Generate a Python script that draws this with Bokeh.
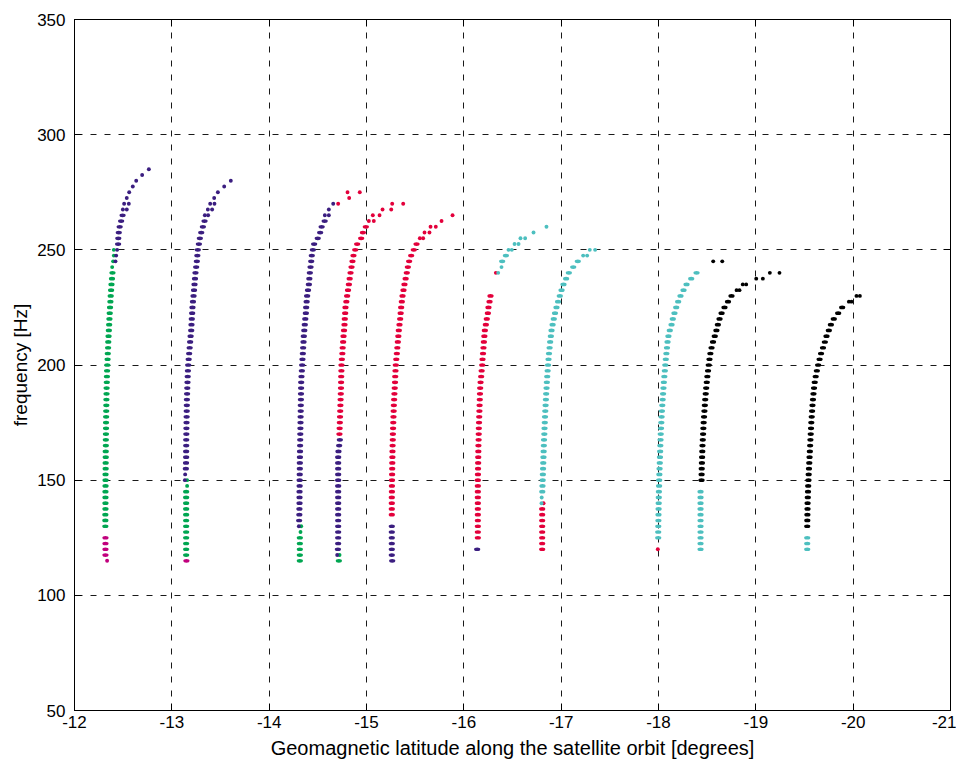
from bokeh.plotting import figure
from bokeh.models import Range1d, FixedTicker, LinearAxis, ColumnDataSource
from bokeh.embed import file_html
from bokeh.resources import INLINE

# ---------------- axes ----------------
x_ticks = [-12, -13, -14, -15, -16, -17, -18, -19, -20, -21]
x_tick_labels = ["-12", "-13", "-14", "-15", "-16", "-17", "-18", "-19", "-20", "-21"]
y_ticks = [50, 100, 150, 200, 250, 300, 350]
y_tick_labels = ["50", "100", "150", "200", "250", "300", "350"]
x_title = "Geomagnetic latitude along the satellite orbit [degrees]"
y_title = "frequency [Hz]"

GREEN = "#00a651"
PURPLE = "#3b1e80"
MAGENTA = "#c1007d"
RED = "#e3003b"
CYAN = "#4dbfbf"
BLACK = "#000000"

# ---------------- data: (frequency [Hz], latitude [deg]) ----------------
# "pair" = two overlapping samples at one frequency, "single" = one sample
# curve 1
c1_magenta_pair = [(117.5, -12.318), (120, -12.318), (122.5, -12.318), (125, -12.318)]
c1_magenta_single = [(115, -12.335)]
c1_green_pair = [(130, -12.317), (132.5, -12.317), (135, -12.317), (137.5, -12.318), (140, -12.318),
                 (142.5, -12.318), (145, -12.318), (147.5, -12.319), (150, -12.319), (152.5, -12.319),
                 (155, -12.320), (157.5, -12.320), (160, -12.321), (162.5, -12.321), (165, -12.322),
                 (167.5, -12.322), (170, -12.323), (172.5, -12.324), (175, -12.324), (177.5, -12.325),
                 (180, -12.326), (182.5, -12.327), (185, -12.328), (187.5, -12.329), (190, -12.330),
                 (192.5, -12.332), (195, -12.333), (197.5, -12.335), (200, -12.337), (202.5, -12.340),
                 (205, -12.342), (207.5, -12.345), (210, -12.347), (212.5, -12.350), (215, -12.353),
                 (217.5, -12.356), (220, -12.359), (222.5, -12.362), (225, -12.365), (227.5, -12.369),
                 (230, -12.372), (232.5, -12.376), (235, -12.380), (237.5, -12.385), (240, -12.390)]
c1_green_single = [(242.5, -12.387), (245, -12.397), (247.5, -12.404), (250, -12.404)]
c1_purple_pair = [(252.5, -12.448), (255, -12.450), (257.5, -12.455), (260, -12.464),
                  (262.5, -12.479), (265, -12.494)]
c1_purple_single = [(245, -12.421), (247.5, -12.428), (250, -12.438), (267.5, -12.497), (267.5, -12.537),
                    (270, -12.510), (270, -12.558), (272.5, -12.537), (275, -12.562), (277.5, -12.599),
                    (280, -12.634), (282.5, -12.695), (285, -12.764)]

# curve 2
c2_magenta_pair = [(115, -13.150)]
c2_green_pair = [(117.5, -13.147), (120, -13.147), (122.5, -13.147), (125, -13.147), (127.5, -13.147),
                 (130, -13.147), (132.5, -13.147), (135, -13.147), (137.5, -13.147), (140, -13.147),
                 (142.5, -13.147), (145, -13.147)]
c2_green_single = [(147.5, -13.157), (150, -13.157)]
c2_purple_single = [(150, -13.134), (152.5, -13.137), (265, -13.339), (265, -13.373), (267.5, -13.370),
                    (267.5, -13.414), (270, -13.394), (270, -13.438), (272.5, -13.435), (275, -13.473),
                    (277.5, -13.538), (280, -13.606)]
c2_purple_pair = [(155, -13.144), (157.5, -13.146), (160, -13.147), (162.5, -13.147), (165, -13.148),
                  (167.5, -13.148), (170, -13.149), (172.5, -13.150), (175, -13.151), (177.5, -13.152),
                  (180, -13.153), (182.5, -13.154), (185, -13.155), (187.5, -13.157), (190, -13.159),
                  (192.5, -13.161), (195, -13.163), (197.5, -13.165), (200, -13.168), (202.5, -13.173),
                  (205, -13.178), (207.5, -13.183), (210, -13.188), (212.5, -13.193), (215, -13.199),
                  (217.5, -13.202), (220, -13.205), (222.5, -13.209), (225, -13.212), (227.5, -13.217),
                  (230, -13.223), (232.5, -13.228), (235, -13.233), (237.5, -13.238), (240, -13.243),
                  (242.5, -13.250), (245, -13.257), (247.5, -13.262), (250, -13.267), (252.5, -13.278),
                  (255, -13.288), (257.5, -13.302), (260, -13.319), (262.5, -13.336)]

# curve 3
c3_green_pair = [(115, -14.315), (117.5, -14.315), (120, -14.315), (122.5, -14.315), (125, -14.315)]
c3_green_single = [(127.5, -14.322), (130, -14.329)]
c3_purple_single = [(130, -14.305), (265, -14.572), (265, -14.613), (267.5, -14.613), (270, -14.658)]
c3_purple_pair = [(132.5, -14.308), (135, -14.310), (137.5, -14.311), (140, -14.312), (142.5, -14.312),
                  (145, -14.312), (147.5, -14.313), (150, -14.313), (152.5, -14.314), (155, -14.315),
                  (157.5, -14.315), (160, -14.316), (162.5, -14.317), (165, -14.318), (167.5, -14.319),
                  (170, -14.320), (172.5, -14.321), (175, -14.322), (177.5, -14.323), (180, -14.324),
                  (182.5, -14.325), (185, -14.326), (187.5, -14.327), (190, -14.328), (192.5, -14.329),
                  (195, -14.332), (197.5, -14.336), (200, -14.339), (202.5, -14.342), (205, -14.346),
                  (207.5, -14.349), (210, -14.353), (212.5, -14.356), (215, -14.361), (217.5, -14.366),
                  (220, -14.371), (222.5, -14.377), (225, -14.380), (227.5, -14.385), (230, -14.390),
                  (232.5, -14.399), (235, -14.408), (237.5, -14.413), (240, -14.418), (242.5, -14.425),
                  (245, -14.432), (247.5, -14.438), (250, -14.449), (252.5, -14.462), (255, -14.499),
                  (257.5, -14.524), (260, -14.539), (262.5, -14.570)]
c3_red_single = [(270, -14.709), (272.5, -14.822), (275, -14.805), (275, -14.931)]

# curve 4
c4_green_pair = [(115, -14.716)]
c4_green_single = [(117.5, -14.723)]
c4_purple_single = [(117.5, -14.699)]
c4_purple_pair = [(120, -14.706), (122.5, -14.709), (125, -14.709), (127.5, -14.709), (130, -14.709),
                  (132.5, -14.709), (135, -14.709), (137.5, -14.709), (140, -14.709), (142.5, -14.709),
                  (145, -14.709), (147.5, -14.709), (150, -14.709), (152.5, -14.709), (155, -14.709),
                  (157.5, -14.709), (160, -14.709), (162.5, -14.712), (165, -14.719), (167.5, -14.726)]
c4_red_pair = [(170, -14.722), (172.5, -14.724), (175, -14.726), (177.5, -14.728), (180, -14.730),
               (182.5, -14.732), (185, -14.734), (187.5, -14.736), (190, -14.738), (192.5, -14.739),
               (195, -14.740), (197.5, -14.742), (200, -14.743), (202.5, -14.747), (205, -14.752),
               (207.5, -14.755), (210, -14.760), (212.5, -14.764), (215, -14.769), (217.5, -14.774),
               (220, -14.777), (222.5, -14.781), (225, -14.784), (227.5, -14.793), (230, -14.801),
               (232.5, -14.810), (235, -14.819), (237.5, -14.827), (240, -14.836), (242.5, -14.846),
               (245, -14.856), (247.5, -14.866), (250, -14.884), (252.5, -14.904), (255, -14.945),
               (257.5, -14.963), (260, -14.993)]
c4_red_single = [(262.5, -15.024), (262.5, -15.075), (265, -15.065), (265, -15.134), (267.5, -15.165),
                 (267.5, -15.254), (270, -15.264), (270, -15.377)]

# curve 5
c5_purple_pair = [(115, -15.264), (117.5, -15.260), (120, -15.260), (122.5, -15.260), (125, -15.260),
                  (127.5, -15.260), (130, -15.260)]
c5_red_pair = [(135, -15.260), (137.5, -15.260), (140, -15.260), (142.5, -15.260), (145, -15.261),
               (147.5, -15.261), (150, -15.262), (152.5, -15.263), (155, -15.264), (157.5, -15.265),
               (160, -15.266), (162.5, -15.267), (165, -15.268), (167.5, -15.270), (170, -15.271),
               (172.5, -15.273), (175, -15.275), (177.5, -15.277), (180, -15.279), (182.5, -15.281),
               (185, -15.284), (187.5, -15.287), (190, -15.290), (192.5, -15.293), (195, -15.295),
               (197.5, -15.298), (200, -15.301), (202.5, -15.306), (205, -15.312), (207.5, -15.317),
               (210, -15.322), (212.5, -15.327), (215, -15.332), (217.5, -15.339), (220, -15.346),
               (222.5, -15.351), (225, -15.356), (227.5, -15.363), (230, -15.370), (232.5, -15.380),
               (235, -15.390), (237.5, -15.402), (240, -15.414), (242.5, -15.425), (245, -15.438),
               (247.5, -15.459), (250, -15.486), (252.5, -15.514)]
c5_red_single = [(255, -15.548), (255, -15.582), (257.5, -15.596), (257.5, -15.647), (260, -15.658),
                 (260, -15.712), (262.5, -15.771), (265, -15.884)]

# curve 6
c6_purple_pair = [(120, -16.137)]
c6_red_pair = [(125, -16.144), (127.5, -16.144), (130, -16.144), (132.5, -16.144), (135, -16.144),
               (137.5, -16.144), (140, -16.144), (142.5, -16.144), (145, -16.144), (147.5, -16.144),
               (150, -16.144), (152.5, -16.145), (155, -16.146), (157.5, -16.147), (160, -16.148),
               (162.5, -16.149), (165, -16.150), (167.5, -16.152), (170, -16.153), (172.5, -16.154),
               (175, -16.156), (177.5, -16.158), (180, -16.160), (182.5, -16.162), (185, -16.164),
               (187.5, -16.166), (190, -16.168), (192.5, -16.172), (195, -16.178), (197.5, -16.183),
               (200, -16.189), (202.5, -16.192), (205, -16.197), (207.5, -16.202), (210, -16.206),
               (212.5, -16.211), (215, -16.216), (217.5, -16.226), (220, -16.236), (222.5, -16.247),
               (225, -16.253), (227.5, -16.264), (230, -16.274)]
c6_red_single = [(240, -16.329)]
c6_cyan_pair = [(245, -16.394), (247.5, -16.432)]
c6_cyan_single = [(240, -16.353), (242.5, -16.387), (250, -16.459), (250, -16.493), (252.5, -16.521),
                  (252.5, -16.562), (255, -16.582), (255, -16.630), (257.5, -16.716), (260, -16.849)]

# curve 7
c7_red_pair = [(120, -16.805), (122.5, -16.805), (125, -16.805), (127.5, -16.805), (130, -16.805),
               (132.5, -16.805), (135, -16.805), (137.5, -16.805)]
c7_red_single = [(140, -16.819)]
c7_cyan_single = [(140, -16.798), (142.5, -16.800), (247.5, -17.226), (247.5, -17.267),
                  (250, -17.294), (250, -17.349)]
c7_cyan_pair = [(145, -16.806), (147.5, -16.808), (150, -16.810), (152.5, -16.812), (155, -16.814),
                (157.5, -16.816), (160, -16.818), (162.5, -16.820), (165, -16.822), (167.5, -16.824),
                (170, -16.827), (172.5, -16.829), (175, -16.832), (177.5, -16.834), (180, -16.837),
                (182.5, -16.840), (185, -16.843), (187.5, -16.846), (190, -16.850), (192.5, -16.853),
                (195, -16.857), (197.5, -16.861), (200, -16.865), (202.5, -16.870), (205, -16.875),
                (207.5, -16.881), (210, -16.887), (212.5, -16.894), (215, -16.901), (217.5, -16.912),
                (220, -16.924), (222.5, -16.937), (225, -16.952), (227.5, -16.968), (230, -16.986),
                (232.5, -17.004), (235, -17.024), (237.5, -17.051), (240, -17.079), (242.5, -17.124),
                (245, -17.171)]

# curve 8
c8_red_single = [(120, -17.993)]
c8_cyan_pair = [(125, -17.997), (127.5, -17.997), (130, -17.998), (132.5, -17.999), (135, -18.000),
                (137.5, -18.001), (140, -18.002), (142.5, -18.003), (145, -18.004), (147.5, -18.006),
                (150, -18.007), (152.5, -18.009), (155, -18.011), (157.5, -18.013), (160, -18.015),
                (162.5, -18.017), (165, -18.019), (167.5, -18.021), (170, -18.023), (172.5, -18.026),
                (175, -18.029), (177.5, -18.032), (180, -18.035), (182.5, -18.039), (185, -18.043),
                (187.5, -18.047), (190, -18.051), (192.5, -18.055), (195, -18.060), (197.5, -18.065),
                (200, -18.070), (202.5, -18.075), (205, -18.081), (207.5, -18.087), (210, -18.093),
                (212.5, -18.102), (215, -18.116), (217.5, -18.134), (220, -18.147), (222.5, -18.164),
                (225, -18.182), (227.5, -18.202), (230, -18.226), (232.5, -18.257), (235, -18.288),
                (237.5, -18.336), (240, -18.391)]
c8_black_single = [(245, -18.562), (245, -18.655)]

# curve 9
c9_cyan_pair = [(120, -18.432), (122.5, -18.432), (125, -18.432), (127.5, -18.432), (130, -18.432),
                (132.5, -18.432), (135, -18.432), (137.5, -18.432), (140, -18.432), (142.5, -18.432),
                (145, -18.432)]
c9_black_pair = [(150, -18.442), (152.5, -18.443), (155, -18.444), (157.5, -18.446), (160, -18.448),
                 (162.5, -18.450), (165, -18.452), (167.5, -18.455), (170, -18.458), (172.5, -18.461),
                 (175, -18.464), (177.5, -18.468), (180, -18.472), (182.5, -18.476), (185, -18.480),
                 (187.5, -18.485), (190, -18.490), (192.5, -18.496), (195, -18.502), (197.5, -18.509),
                 (200, -18.516), (202.5, -18.524), (205, -18.533), (207.5, -18.545), (210, -18.560),
                 (212.5, -18.578), (215, -18.595), (217.5, -18.610), (220, -18.627), (222.5, -18.648),
                 (225, -18.678), (227.5, -18.714), (230, -18.750)]
c9_black_single = [(232.5, -18.802), (232.5, -18.832), (235, -18.866), (235, -18.901),
                   (237.5, -19.004), (237.5, -19.072), (240, -19.144), (240, -19.243)]

# curve 10
c10_cyan_pair = [(120, -19.528), (122.5, -19.528), (125, -19.528)]
c10_black_pair = [(130, -19.528), (132.5, -19.529), (135, -19.530), (137.5, -19.531), (140, -19.532),
                  (142.5, -19.534), (145, -19.536), (147.5, -19.538), (150, -19.541), (152.5, -19.543),
                  (155, -19.546), (157.5, -19.549), (160, -19.552), (162.5, -19.555), (165, -19.558),
                  (167.5, -19.561), (170, -19.564), (172.5, -19.567), (175, -19.570), (177.5, -19.574),
                  (180, -19.578), (182.5, -19.582), (185, -19.587), (187.5, -19.592), (190, -19.598),
                  (192.5, -19.605), (195, -19.615), (197.5, -19.627), (200, -19.640), (202.5, -19.655),
                  (205, -19.670), (207.5, -19.690), (210, -19.709), (212.5, -19.726), (215, -19.750),
                  (217.5, -19.771), (220, -19.801), (222.5, -19.846), (225, -19.887)]
c10_black_single = [(227.5, -19.956), (227.5, -19.983), (230, -20.034), (230, -20.069)]

groups = [
    (c1_magenta_pair, MAGENTA, "pair"), (c1_magenta_single, MAGENTA, "single"),
    (c1_green_pair, GREEN, "pair"), (c1_green_single, GREEN, "single"),
    (c1_purple_pair, PURPLE, "pair"), (c1_purple_single, PURPLE, "single"),
    (c2_magenta_pair, MAGENTA, "pair"), (c2_green_pair, GREEN, "pair"),
    (c2_green_single, GREEN, "single"), (c2_purple_single, PURPLE, "single"),
    (c2_purple_pair, PURPLE, "pair"),
    (c3_green_pair, GREEN, "pair"), (c3_green_single, GREEN, "single"),
    (c3_purple_single, PURPLE, "single"), (c3_purple_pair, PURPLE, "pair"),
    (c3_red_single, RED, "single"),
    (c4_green_pair, GREEN, "pair"), (c4_green_single, GREEN, "single"),
    (c4_purple_single, PURPLE, "single"), (c4_purple_pair, PURPLE, "pair"),
    (c4_red_pair, RED, "pair"), (c4_red_single, RED, "single"),
    (c5_purple_pair, PURPLE, "pair"), (c5_red_pair, RED, "pair"), (c5_red_single, RED, "single"),
    (c6_purple_pair, PURPLE, "pair"), (c6_red_pair, RED, "pair"), (c6_red_single, RED, "single"),
    (c6_cyan_pair, CYAN, "pair"), (c6_cyan_single, CYAN, "single"),
    (c7_red_pair, RED, "pair"), (c7_red_single, RED, "single"),
    (c7_cyan_single, CYAN, "single"), (c7_cyan_pair, CYAN, "pair"),
    (c8_red_single, RED, "single"), (c8_cyan_pair, CYAN, "pair"), (c8_black_single, BLACK, "single"),
    (c9_cyan_pair, CYAN, "pair"), (c9_black_pair, BLACK, "pair"), (c9_black_single, BLACK, "single"),
    (c10_cyan_pair, CYAN, "pair"), (c10_black_pair, BLACK, "pair"), (c10_black_single, BLACK, "single"),
]

FONT = "Liberation Sans"

p = figure(width=956, height=764, output_backend="svg", toolbar_location=None,
           x_range=Range1d(-12, -21), y_range=Range1d(50, 350),
           min_border_left=74, min_border_right=6, min_border_top=19, min_border_bottom=54)
p.background_fill_color = "white"
p.border_fill_color = "white"
p.outline_line_color = "black"
p.outline_line_width = 1
p.outline_line_alpha = 1

xt = FixedTicker(ticks=x_ticks)
yt = FixedTicker(ticks=y_ticks)

for ax in (p.xaxis[0], p.yaxis[0]):
    ax.major_tick_in = 7
    ax.major_tick_out = 0
    ax.minor_tick_line_color = None
    ax.axis_line_color = "black"
    ax.major_tick_line_color = "black"
    ax.major_label_text_font = FONT
    ax.major_label_text_font_size = "17px"
    ax.major_label_text_color = "black"
    ax.axis_label_text_font = FONT
    ax.axis_label_text_font_style = "normal"
    ax.axis_label_text_color = "black"

p.xaxis[0].ticker = xt
p.xaxis[0].major_label_overrides = {t: s for t, s in zip(x_ticks, x_tick_labels)}
p.xaxis[0].axis_label = x_title
p.xaxis[0].axis_label_text_font_size = "20px"
p.xaxis[0].major_label_standoff = 5
p.xaxis[0].axis_label_standoff = 6

p.yaxis[0].ticker = yt
p.yaxis[0].major_label_overrides = {t: s for t, s in zip(y_ticks, y_tick_labels)}
p.yaxis[0].axis_label = y_title
p.yaxis[0].axis_label_text_font_size = "19px"
p.yaxis[0].major_label_standoff = 9
p.yaxis[0].axis_label_standoff = 3

top = LinearAxis(ticker=FixedTicker(ticks=x_ticks), major_tick_in=7, major_tick_out=0,
                 minor_tick_line_color=None, major_label_text_font_size="0px",
                 major_label_standoff=0, axis_line_color="black")
right = LinearAxis(ticker=FixedTicker(ticks=y_ticks), major_tick_in=7, major_tick_out=0,
                   minor_tick_line_color=None, major_label_text_font_size="0px",
                   major_label_standoff=0, axis_line_color="black")
p.add_layout(top, "above")
p.add_layout(right, "right")

for g in (p.xgrid[0], p.ygrid[0]):
    g.grid_line_color = "#1a1a1a"
    g.grid_line_dash = "6 8"
    g.grid_line_width = 1
    g.grid_line_alpha = 1
p.xgrid[0].ticker = xt
p.ygrid[0].ticker = yt

for pts, col, kind in groups:
    src = ColumnDataSource(dict(f=[a for a, b in pts], lat=[b for a, b in pts]))
    if kind == "pair":
        p.ellipse(x="lat", y="f", width=6.2, height=3.7, width_units="screen",
                  height_units="screen", fill_color=col, line_color=None, source=src)
    else:
        p.scatter(x="lat", y="f", size=3.9, marker="circle", fill_color=col,
                  line_color=None, source=src)

open("out.html", "w").write(file_html(p, INLINE))
